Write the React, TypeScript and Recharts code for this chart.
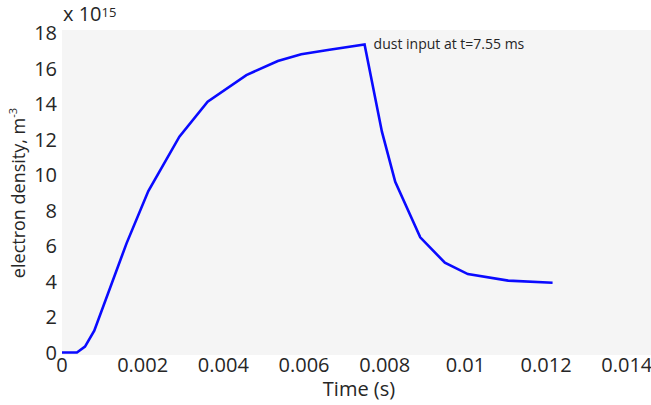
import { LineChart, Line, XAxis, YAxis, CartesianGrid, ReferenceDot, Label } from 'recharts';

// time (s) and electron density (x 1e15 m^-3)
const timeS = [
  0, 0.00037, 0.00057, 0.0008, 0.0016, 0.00214, 0.00291, 0.00361, 0.00457, 0.00535,
  0.00593, 0.00659, 0.0075, 0.00793, 0.00826, 0.00888, 0.00949, 0.01006, 0.01106, 0.01216,
];
const density = [
  0, 0, 0.33, 1.23, 6.15, 9.1, 12.16, 14.13, 15.63, 16.42,
  16.8, 17.04, 17.36, 12.44, 9.62, 6.49, 5.06, 4.42, 4.05, 3.93,
];

const xTicks = [0, 0.002, 0.004, 0.006, 0.008, 0.01, 0.012, 0.014];
const yTicks = [0, 2, 4, 6, 8, 10, 12, 14, 16, 18];

const dustTime = 0.0075;
const dustDensity = 17.36;
const dustLabel = 'dust input at t=7.55 ms';

const FONT = '"Open Sans", "Noto Sans", sans-serif';
const TEXT = '#262626';

export default function App() {
  const data = timeS.map((t, i) => ({ t, n: density[i] }));

  return (
    <div style={{ position: 'absolute', left: 0, top: 0, width: 651, height: 405, background: '#fff', fontFamily: FONT }}>
      <LineChart width={651} height={405} data={data} margin={{ top: 30, right: 0, bottom: 0, left: 0 }}>
        <CartesianGrid horizontal={false} vertical={false} fill="#f5f5f5" />
        <XAxis
          dataKey="t"
          type="number"
          domain={[0, 0.0146]}
          ticks={xTicks}
          allowDataOverflow
          height={50}
          axisLine={false}
          tickLine={false}
          tickSize={0}
          tickMargin={3}
          tick={{ fontSize: 20, fill: TEXT, fontFamily: FONT }}
          tickFormatter={(v) => String(v)}
        >
          <Label
            content={() => (
              <text x={359} y={396} textAnchor="middle" fontSize={20} fill={TEXT} fontFamily={FONT}>
                Time (s)
              </text>
            )}
          />
        </XAxis>
        <YAxis
          type="number"
          domain={[-0.14, 18.17]}
          ticks={yTicks}
          allowDataOverflow
          width={62}
          axisLine={false}
          tickLine={false}
          tickSize={0}
          tickMargin={5}
          tick={{ fontSize: 20, fill: TEXT, fontFamily: FONT }}
        >
          <Label
            content={() => (
              <text
                x={0}
                y={0}
                transform="translate(25, 193) rotate(-90)"
                textAnchor="middle"
                fontSize={18}
                fill={TEXT}
                fontFamily={FONT}
              >
                electron density, m
                <tspan fontSize={11} dy={-8}>-3</tspan>
              </text>
            )}
          />
        </YAxis>
        <Line
          type="linear"
          dataKey="n"
          stroke="#0a0aff"
          strokeWidth={2.6}
          dot={false}
          isAnimationActive={false}
        />
        <ReferenceDot
          x={dustTime}
          y={dustDensity}
          r={0}
          fill="none"
          stroke="none"
          label={{ value: dustLabel, position: 'right', offset: 9, fontSize: 14, fill: TEXT, fontFamily: FONT }}
        />
      </LineChart>
      <div style={{ position: 'absolute', left: 63, top: 2, fontSize: 20, color: TEXT, lineHeight: '24px', whiteSpace: 'nowrap' }}>
        x 10<span style={{ fontSize: 13, verticalAlign: 'top', position: 'relative', top: -2 }}>15</span>
      </div>
    </div>
  );
}
